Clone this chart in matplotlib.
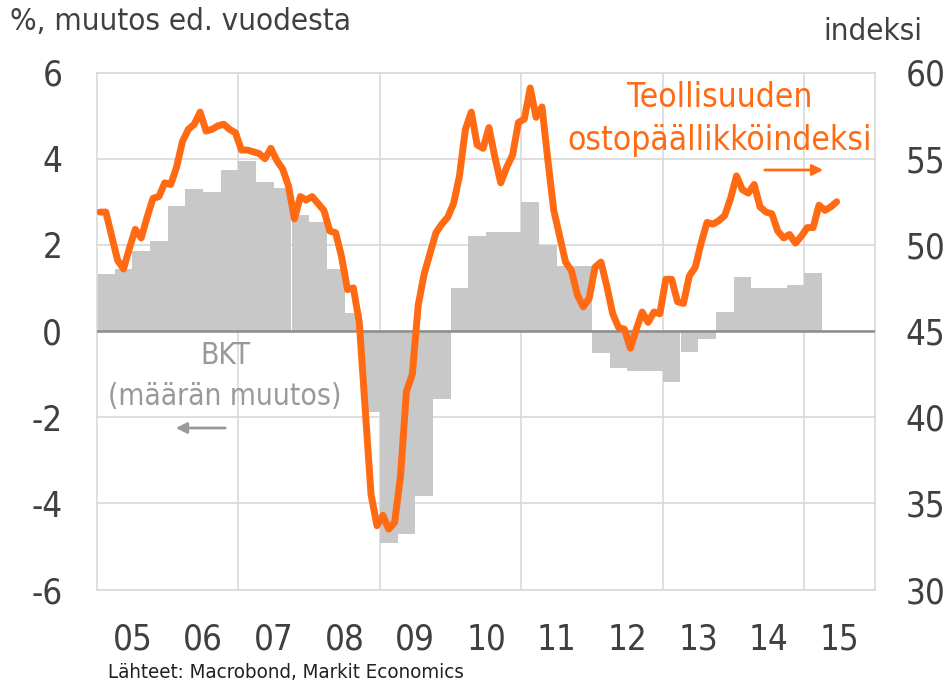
import matplotlib
matplotlib.use("Agg")
import matplotlib.pyplot as plt
import matplotlib.font_manager as fm
import numpy as np

# ---------------- data ----------------
# GDP, % change y/y, quarterly 2005Q1 .. 2015Q1 (left axis)
gdp_start_year = 2005
gdp = [1.33, 1.45, 1.86, 2.10,
       2.89, 3.30, 3.22, 3.73,
       3.95, 3.47, 3.31, 2.69,
       2.52, 1.45, 0.41, -1.89,
       -4.93, -4.71, -3.84, -1.58,
       1.00, 2.21, 2.30, 2.30,
       2.99, 1.99, 1.52, 1.50,
       -0.52, -0.87, -0.92, -0.94,
       -1.18, -0.48, -0.19, 0.43,
       1.26, 1.00, 1.00, 1.07,
       1.35]

# Manufacturing PMI, monthly Jan 2005 .. Jun 2015 (right axis)
pmi = [51.9, 51.9, 50.5, 49.1, 48.6, 49.8, 50.9, 50.4, 51.6, 52.7, 52.8, 53.6,
       53.5, 54.5, 56.0, 56.7, 57.0, 57.7, 56.6, 56.7, 56.9, 57.0, 56.7, 56.5,
       55.5, 55.5, 55.4, 55.3, 55.0, 55.6, 54.9, 54.4, 53.4, 51.5, 52.8, 52.6,
       52.8, 52.4, 52.0, 50.8, 50.7, 49.3, 47.4, 47.5, 45.5, 40.5, 35.5, 33.7,
       34.3, 33.5, 33.9, 36.6, 41.5, 42.5, 46.5, 48.3, 49.5, 50.7, 51.2, 51.6,
       52.4, 54.0, 56.7, 57.7, 55.8, 55.6, 56.8, 55.1, 53.6, 54.5, 55.2, 57.1,
       57.3, 59.1, 57.4, 58.0, 54.9, 52.0, 50.5, 49.0, 48.5, 47.1, 46.4, 46.9,
       48.7, 49.0, 47.6, 46.0, 45.2, 45.1, 44.0, 45.1, 46.1, 45.5, 46.1, 46.0,
       48.0, 48.0, 46.7, 46.6, 48.2, 48.7, 50.1, 51.3, 51.2, 51.4, 51.7, 52.7,
       54.0, 53.2, 53.0, 53.5, 52.2, 51.9, 51.8, 50.8, 50.4, 50.6, 50.1, 50.5,
       51.0, 51.0, 52.3, 52.0, 52.2, 52.5]

year_labels = ["05", "06", "07", "08", "09", "10", "11", "12", "13", "14", "15"]
left_ticks = [-6, -4, -2, 0, 2, 4, 6]
right_ticks = [30, 35, 40, 45, 50, 55, 60]

# ---------------- font ----------------
cond = [f for f in fm.fontManager.ttflist
        if f.name == "DejaVu Sans"
        and str(f.stretch).lower() in ("condensed", "semi-condensed")
        and f.style == "normal"
        and str(f.weight) in ("normal", "400", "book", "regular")]
if cond:
    FP = fm.FontProperties(fname=cond[0].fname)
else:
    FP = fm.FontProperties(family="Liberation Sans")


def fp(size):
    p = FP.copy()
    p.set_size(size)
    return p


ORANGE = "#FF6A13"
BAR = "#C8C8C8"
GRID = "#D9D9D9"
TXT = "#404040"
GRAYTXT = "#999999"

W, H = 953, 685
fig = plt.figure(figsize=(W / 100, H / 100), dpi=100)
ax = fig.add_axes([97 / W, 1 - 589.5 / H, 778 / W, 517 / H])
ax2 = ax.twinx()

# bars
tq = gdp_start_year + np.arange(len(gdp)) * 0.25
ax.bar(tq, gdp, width=0.25, align="edge", color=BAR, zorder=2, linewidth=0)
ax.axhline(0, color="#8C8C8C", lw=1.8, zorder=3)

# line
tm = 2005 + (np.arange(len(pmi)) + 0.5) / 12
ax2.plot(tm, pmi, color=ORANGE, lw=5, solid_joinstyle="round",
         solid_capstyle="round", zorder=3)

ax.set_xlim(2005, 2016)
ax.set_ylim(-6, 6)
ax2.set_ylim(30, 60)

centers = 2005.5 + np.arange(len(year_labels))
ax.set_xticks(centers)
ax.set_xticklabels(year_labels)
ax.set_xticks([2007, 2009, 2011, 2013, 2015], minor=True)
ax.set_yticks(left_ticks)
ax.set_yticklabels([str(v) for v in left_ticks])
ax2.set_yticks(right_ticks)
ax2.set_yticklabels([str(v) for v in right_ticks])

ax.set_axisbelow(True)
ax.grid(True, which="major", axis="y", color=GRID, lw=1.2, zorder=0)
ax.grid(True, which="minor", axis="x", color=GRID, lw=1.2, zorder=0)

ax.tick_params(axis="y", which="both", length=0, pad=25, colors=TXT)
ax.tick_params(axis="x", which="both", length=0, pad=24, colors=TXT)
ax2.tick_params(axis="y", length=0, pad=22, colors=TXT)
for lab in ax.get_xticklabels() + ax.get_yticklabels() + ax2.get_yticklabels():
    lab.set_fontproperties(fp(25))

for s in ax.spines.values():
    s.set_color(GRID)
    s.set_linewidth(1.2)
for s in ax2.spines.values():
    s.set_visible(False)

# texts
fig.text(10 / W, 1 - 22 / H, "%, muutos ed. vuodesta", fontproperties=fp(22.5), color=TXT,
         ha="left", va="center")
fig.text(922 / W, 1 - 32 / H, "indeksi", fontproperties=fp(22.5), color=TXT,
         ha="right", va="center")
fig.text(720 / W, 1 - 119 / H, "Teollisuuden\nostopäällikköindeksi", fontproperties=fp(24),
         color=ORANGE, ha="center", va="center", linespacing=1.37)
ax.annotate("", xy=(826, H - 170), xytext=(762, H - 170), xycoords="figure pixels",
            textcoords="figure pixels",
            arrowprops=dict(arrowstyle="-|>", color=ORANGE, lw=2, mutation_scale=16))
fig.text(225 / W, 1 - 376 / H, "BKT\n(määrän muutos)", fontproperties=fp(21.5),
         color=GRAYTXT, ha="center", va="center", linespacing=1.48)
ax.annotate("", xy=(173, H - 428), xytext=(228, H - 428), xycoords="figure pixels",
            textcoords="figure pixels",
            arrowprops=dict(arrowstyle="-|>", color=GRAYTXT, lw=2, mutation_scale=16))
fig.text(108 / W, 1 - 673 / H, "Lähteet: Macrobond, Markit Economics", fontproperties=fp(14.7),
         color="#202020", ha="left", va="center")

fig.savefig("out.png", dpi=100)
